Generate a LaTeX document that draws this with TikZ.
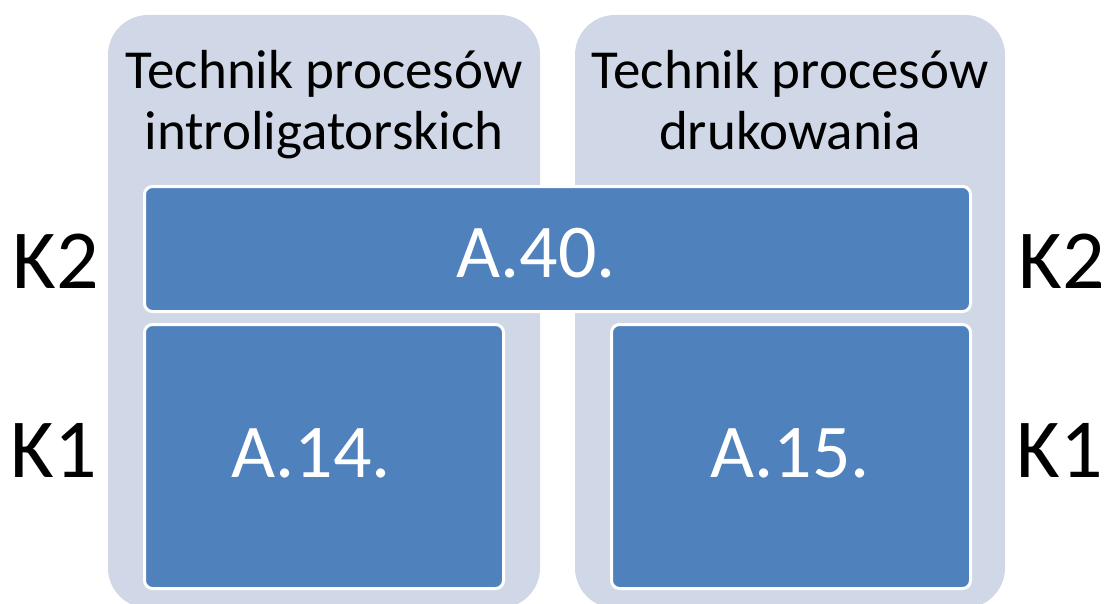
\documentclass[tikz,border=0pt]{standalone}
\usepackage{fontspec}
\setmainfont{Carlito}
\definecolor{panelc}{HTML}{D0D8E8}
\definecolor{boxc}{HTML}{4F81BD}
\begin{document}
\begin{tikzpicture}[x=1pt,y=-1pt,
  panel/.style={fill=panelc, draw=none, rounded corners=40pt},
  levelbox/.style={fill=boxc, draw=white, line width=3pt, rounded corners=8pt, inner sep=0pt},
  boxtext/.style={text=white, font=\fontsize{76}{90}\selectfont, anchor=base, inner sep=0pt},
  title/.style={font=\fontsize{55}{62}\selectfont, align=center, anchor=base, inner sep=0pt},
  klabel/.style={font=\fontsize{84}{100}\selectfont, anchor=base, inner sep=0pt}]
\useasboundingbox (0,0) rectangle (1107,604);
\begin{scope}
\clip (0,0) rectangle (1107,604);
\path[panel] (108,15) rectangle (540,608);
\path[panel] (575,15) rectangle (1005,608);
\end{scope}
\node[title] (t1) at (324,150) {Technik procesów\\introligatorskich};
\node[title] (t2) at (790,150) {Technik procesów\\drukowania};
\node[levelbox, minimum width=826pt, minimum height=125pt] (b40) at (557.5,249) {};
\node[levelbox, minimum width=359pt, minimum height=264pt] (b14) at (324,456.5) {};
\node[levelbox, minimum width=359pt, minimum height=264pt] (b15) at (791,456.5) {};
\node[boxtext] (l40) at (536,277) {A.40.};
\node[boxtext] (l14) at (311,477) {A.14.};
\node[boxtext] (l15) at (790,477) {A.15.};
\node[klabel] (k2l) at (56,288) {K2};
\node[klabel] (k1l) at (54,477) {K1};
\node[klabel] (k2r) at (1062,288) {K2};
\node[klabel] (k1r) at (1060,477) {K1};
\end{tikzpicture}
\end{document}
